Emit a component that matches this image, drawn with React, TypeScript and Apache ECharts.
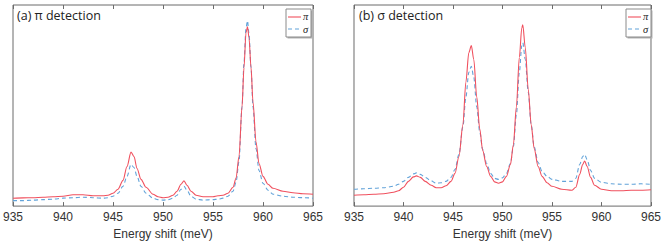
import React, { useEffect, useRef } from "react";
import * as echarts from "echarts";

// Energy shift (meV) sample positions and intensities (arb. units)
const leftX = [935, 936, 937, 938, 939, 940, 941, 942, 943, 944, 944.5, 945, 945.5, 946, 946.4, 946.8, 947.1, 947.4, 947.8, 948.3, 949, 949.5, 950, 950.5, 951, 951.4, 951.8, 952.1, 952.4, 952.8, 953.3, 954, 955, 955.5, 956, 956.5, 957, 957.3, 957.6, 957.9, 958.1, 958.3, 958.45, 958.6, 958.8, 959, 959.3, 959.6, 960, 960.5, 961, 962, 963, 964, 965];
const leftPi = [8, 8.3, 8.5, 9, 9.5, 10, 11.5, 11.5, 10.5, 10.5, 11, 13, 17, 26, 40, 54.5, 50, 38, 27, 19, 12, 9.5, 8.5, 9, 11, 15, 22, 25.5, 21, 15, 11, 9.5, 9.5, 10.5, 11, 13, 19, 28, 50, 100, 140, 175, 181, 170, 140, 105, 65, 43, 30, 22, 18, 15, 13.5, 12.5, 12];
const leftSigma = [5.5, 5.5, 6, 6.5, 7, 8, 8.5, 9, 8.5, 8, 8.5, 10, 13, 20, 30, 42, 39, 30, 20, 13, 8, 6.5, 6, 6.5, 8, 11, 17, 20, 16, 10, 7, 6, 6.5, 7, 8, 10, 15, 24, 45, 100, 145, 180, 187, 174, 140, 100, 58, 36, 23, 16, 12, 10, 9, 8.5, 8];

const rightX = [935, 936, 937, 938, 939, 939.5, 940, 940.5, 941, 941.3, 941.7, 942.2, 942.8, 943.3, 943.8, 944.3, 944.8, 945.2, 945.6, 946, 946.3, 946.6, 946.85, 947.1, 947.4, 947.7, 948, 948.4, 948.8, 949.2, 949.6, 950, 950.4, 950.8, 951.1, 951.4, 951.7, 951.95, 952.05, 952.3, 952.6, 952.9, 953.2, 953.6, 954, 954.5, 955, 956, 957, 957.4, 957.8, 958.1, 958.3, 958.55, 958.9, 959.3, 960, 961, 962, 963, 964, 965];
const rightPi = [11, 11.5, 12, 12.5, 14, 15.5, 19, 25, 29.5, 30.5, 29, 25, 21, 18.5, 18.5, 20.5, 25, 33, 50, 82, 125, 155, 162, 148, 110, 78, 56, 40, 30, 24.5, 23, 24.5, 30, 42, 62, 100, 150, 180, 183, 160, 118, 82, 58, 40, 30, 23.5, 20, 17, 16, 19, 32, 42, 45.5, 40, 29, 21, 17, 15.5, 15.5, 16, 16, 16.5];
const rightSigma = [17, 17.5, 18, 18.5, 20, 22, 25, 29, 32.5, 33.5, 32, 29, 25.5, 23, 23.5, 25, 29, 37, 52, 80, 110, 135, 141, 130, 100, 75, 57, 43, 33, 28, 27, 28.5, 33, 43, 60, 92, 135, 162, 165, 148, 115, 82, 60, 44, 35, 30, 27, 25, 25, 28, 42, 50, 52, 47, 36, 28, 24, 22.5, 22, 22, 22.5, 22];

const panelTitles = ["(a) π detection", "(b) σ detection"];
const seriesNames = ["π", "σ"];
const xMin = 935;
const xMax = 965;
const xStep = 5;
const axisTitle = "Energy shift (meV)";

const RED = "#f0505e";
const BLUE = "#62a3d9";
const FRAME = "#6b6b6b";

function pairs(xs: number[], ys: number[]) {
  return xs.map((x, i) => [x, ys[i]]);
}

function legendBox(x: number, y: number) {
  const w = 25;
  const h = 28;
  const txt = (s: string, ty: number) => ({
    type: "text",
    x: 17,
    y: ty,
    style: { text: s, fontFamily: "Liberation Serif", fontStyle: "italic", fontSize: 10.5, fill: "#222", verticalAlign: "middle" },
  });
  return {
    type: "group",
    x,
    y,
    children: [
      { type: "rect", shape: { x: 1.5, y: 1.5, width: w, height: h }, style: { fill: "#b0b0b0" } },
      { type: "rect", shape: { x: 0, y: 0, width: w, height: h }, style: { fill: "#fff", stroke: "#8a8a8a", lineWidth: 1 } },
      { type: "line", shape: { x1: 2, y1: 8, x2: 15, y2: 8 }, style: { stroke: RED, lineWidth: 1.1 } },
      { type: "line", shape: { x1: 2, y1: 20, x2: 15, y2: 20 }, style: { stroke: BLUE, lineWidth: 1.1, lineDash: [4, 3] } },
      txt(seriesNames[0], 7.5),
      txt(seriesNames[1], 20.5),
    ],
  };
}

export default function App() {
  const ref = useRef<HTMLDivElement>(null);
  useEffect(() => {
    document.body.style.margin = "0";
    const chart = echarts.init(ref.current!, null, { renderer: "svg" });
    const grids = [
      { left: 12, top: 5, width: 301, height: 203 },
      { left: 354, top: 5, width: 301, height: 203 },
    ];
    const xAxes: any[] = [];
    const yAxes: any[] = [];
    grids.forEach((_, g) => {
      xAxes.push({
        type: "value",
        gridIndex: g,
        position: "bottom",
        min: xMin,
        max: xMax,
        interval: xStep,
        name: axisTitle,
        nameLocation: "middle",
        nameGap: 20,
        nameTextStyle: { fontFamily: "Liberation Sans", fontSize: 12, color: "#333" },
        axisLine: { show: false },
        axisTick: { show: true, inside: true, length: 4, lineStyle: { color: FRAME } },
        axisLabel: { fontFamily: "Liberation Sans", fontSize: 12, color: "#333", margin: 5 },
        splitLine: { show: false },
      });
      xAxes.push({
        type: "value",
        gridIndex: g,
        position: "top",
        min: xMin,
        max: xMax,
        interval: xStep,
        axisLine: { show: false },
        axisTick: { show: true, inside: true, length: 4, lineStyle: { color: FRAME } },
        axisLabel: { show: false },
        splitLine: { show: false },
      });
      yAxes.push({
        type: "value",
        gridIndex: g,
        min: 0,
        max: 203,
        axisLine: { show: false },
        axisTick: { show: false },
        axisLabel: { show: false },
        splitLine: { show: false },
      });
    });
    const mk = (name: string, data: number[][], xi: number, yi: number, color: string, dashed: boolean) => ({
      type: "line",
      name,
      data,
      xAxisIndex: xi,
      yAxisIndex: yi,
      symbol: "none",
      smooth: 0.3,
      smoothMonotone: "x",
      lineStyle: { color, width: 1.1, type: dashed ? [4, 3] : "solid" },
      itemStyle: { color },
    });
    chart.setOption({
      animation: false,
      backgroundColor: "#fff",
      title: panelTitles.map((t, i) => ({
        text: t,
        left: grids[i].left + 5,
        top: 9,
        padding: 0,
        textStyle: { fontFamily: "Open Sans", fontWeight: "normal", fontSize: 12.5, color: "#222" },
      })),
      graphic: [legendBox(286, 9), legendBox(626, 9)],
      grid: grids.map((g) => ({ ...g, show: true, borderColor: FRAME, borderWidth: 1, backgroundColor: "transparent" })),
      xAxis: xAxes,
      yAxis: yAxes,
      series: [
        mk(seriesNames[1], pairs(leftX, leftSigma), 0, 0, BLUE, true),
        mk(seriesNames[0], pairs(leftX, leftPi), 0, 0, RED, false),
        mk(seriesNames[1], pairs(rightX, rightSigma), 2, 1, BLUE, true),
        mk(seriesNames[0], pairs(rightX, rightPi), 2, 1, RED, false),
      ],
    });
    return () => chart.dispose();
  }, []);
  return <div ref={ref} style={{ width: 664, height: 245 }} />;
}
